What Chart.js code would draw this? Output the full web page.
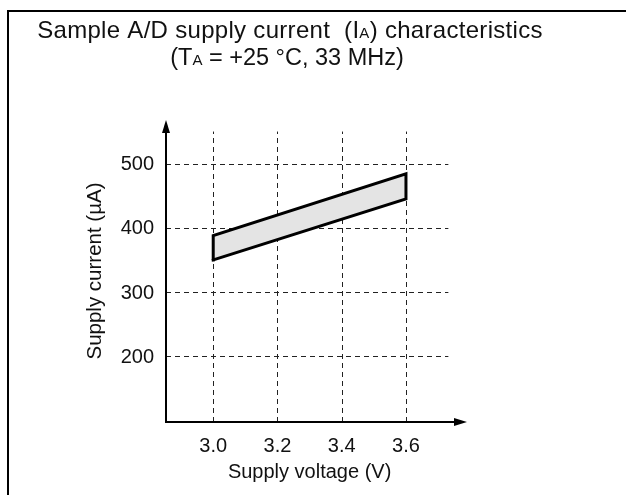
<!DOCTYPE html>
<html><head><meta charset="utf-8">
<script src="https://cdn.jsdelivr.net/npm/chart.js@4/dist/chart.umd.min.js"></script>
<style>html,body{margin:0;padding:0;background:#fff;}#wrap{position:relative;width:626px;height:495px;}</style>
</head><body><div id="wrap"><canvas id="c" width="626" height="495"></canvas></div>
<script>
// ---- data ----
const voltage = [3.0, 3.6];
const upperCurrent = [388, 484];
const lowerCurrent = [350, 445];
const xTicks = [3.0, 3.2, 3.4, 3.6];
const xTickLabels = ['3.0', '3.2', '3.4', '3.6'];
const yTicks = [200, 300, 400, 500];
const yTickLabels = ['200', '300', '400', '500'];
const titleLine1 = [['Sample A/D supply current  (I', false], ['A', true], [') characteristics', false]];
const titleLine2 = [['(T', false], ['A', true], [' = +25 \u00B0C, 33 MHz)', false]];
const xAxisTitle = 'Supply voltage (V)';
const yAxisTitle = 'Supply current (\u00B5A)';

const FONT = '"Liberation Sans", Arial, sans-serif';

const band = [
  {x: voltage[0], y: lowerCurrent[0]},
  {x: voltage[0], y: upperCurrent[0]},
  {x: voltage[1], y: upperCurrent[1]},
  {x: voltage[1], y: lowerCurrent[1]},
  {x: voltage[0], y: lowerCurrent[0]}
];

function drawRich(ctx, parts, cx, baseline, size, spacing) {
  ctx.letterSpacing = spacing + 'px';
  let total = 0;
  const widths = parts.map(([t, sub]) => {
    ctx.font = (sub ? Math.round(size * 0.62) : size) + 'px ' + FONT;
    const w = ctx.measureText(t).width; total += w; return w;
  });
  let x = cx - total / 2;
  ctx.textAlign = 'left'; ctx.textBaseline = 'alphabetic';
  parts.forEach(([t, sub], i) => {
    ctx.font = (sub ? Math.round(size * 0.62) : size) + 'px ' + FONT;
    ctx.fillText(t, x, baseline);
    x += widths[i];
  });
  ctx.letterSpacing = '0px';
}

const deco = {
  id: 'deco',
  beforeDatasetsDraw(chart) {
    const ctx = chart.ctx, xs = chart.scales.x, ys = chart.scales.y;
    ctx.save();
    // frame
    ctx.strokeStyle = '#000'; ctx.lineWidth = 2; ctx.setLineDash([]);
    ctx.beginPath(); ctx.moveTo(8, 495); ctx.lineTo(8, 11); ctx.lineTo(626, 11); ctx.stroke();
    // dashed grid
    ctx.lineWidth = 1; ctx.setLineDash([5, 4]); ctx.strokeStyle = '#222';
    const gxEnd = xs.getPixelForValue(3.732), gyTop = ys.getPixelForValue(550);
    yTicks.forEach(v => {
      const y = Math.round(ys.getPixelForValue(v)) + 0.5;
      ctx.beginPath(); ctx.moveTo(xs.left, y); ctx.lineTo(gxEnd, y); ctx.stroke();
    });
    xTicks.forEach(v => {
      const x = Math.round(xs.getPixelForValue(v)) + 0.5;
      ctx.beginPath(); ctx.moveTo(x, ys.bottom); ctx.lineTo(x, gyTop); ctx.stroke();
    });
    ctx.restore();
  },
  afterDatasetsDraw(chart) {
    const ctx = chart.ctx, xs = chart.scales.x, ys = chart.scales.y;
    const a = chart.chartArea;
    ctx.save();
    ctx.strokeStyle = '#000'; ctx.fillStyle = '#000'; ctx.lineWidth = 2; ctx.setLineDash([]);
    // y axis
    ctx.beginPath(); ctx.moveTo(a.left, a.bottom); ctx.lineTo(a.left, a.top + 8); ctx.stroke();
    ctx.beginPath(); ctx.moveTo(a.left, a.top); ctx.lineTo(a.left - 4, a.top + 13); ctx.lineTo(a.left + 4, a.top + 13); ctx.closePath(); ctx.fill();
    // x axis
    ctx.beginPath(); ctx.moveTo(a.left - 1, a.bottom); ctx.lineTo(a.right - 8, a.bottom); ctx.stroke();
    ctx.beginPath(); ctx.moveTo(a.right, a.bottom); ctx.lineTo(a.right - 13, a.bottom - 4); ctx.lineTo(a.right - 13, a.bottom + 4); ctx.closePath(); ctx.fill();
    // tick labels
    ctx.fillStyle = '#111';
    ctx.font = '20px ' + FONT;
    ctx.textAlign = 'center'; ctx.textBaseline = 'alphabetic';
    xTicks.forEach((v, i) => ctx.fillText(xTickLabels[i], xs.getPixelForValue(v), 452));
    ctx.textAlign = 'right'; ctx.textBaseline = 'middle';
    yTicks.forEach((v, i) => ctx.fillText(yTickLabels[i], 154, ys.getPixelForValue(v) + 1));
    // axis titles
    ctx.textAlign = 'center'; ctx.textBaseline = 'alphabetic';
    ctx.fillText(xAxisTitle, (xs.getPixelForValue(3.0) + xs.getPixelForValue(3.6)) / 2, 478);
    ctx.save(); ctx.translate(101, 271); ctx.rotate(-Math.PI / 2);
    ctx.font = '20.5px ' + FONT;
    ctx.textBaseline = 'alphabetic'; ctx.fillText(yAxisTitle, 0, 0); ctx.restore();
    // title
    drawRich(ctx, titleLine1, 290, 38, 24, 0.3);
    drawRich(ctx, titleLine2, 287, 65, 23.5, 0);
    ctx.restore();
  }
};

new Chart(document.getElementById('c'), {
  type: 'scatter',
  data: {
    datasets: [{
      data: band,
      showLine: true,
      fill: 'shape',
      tension: 0,
      borderColor: '#000',
      borderWidth: 3,
      borderJoinStyle: 'miter',
      borderCapStyle: 'square',
      backgroundColor: '#e4e4e4',
      pointRadius: 0,
      pointHoverRadius: 0
    }]
  },
  options: {
    responsive: false,
    animation: false,
    devicePixelRatio: 1,
    layout: {padding: {left: 166, right: 159, top: 120, bottom: 73}},
    scales: {
      x: {type: 'linear', min: 2.853, max: 3.79, display: false},
      y: {type: 'linear', min: 97.5, max: 568, display: false}
    },
    plugins: {legend: {display: false}, tooltip: {enabled: false}, title: {display: false}}
  },
  plugins: [deco]
});
</script></body></html>
